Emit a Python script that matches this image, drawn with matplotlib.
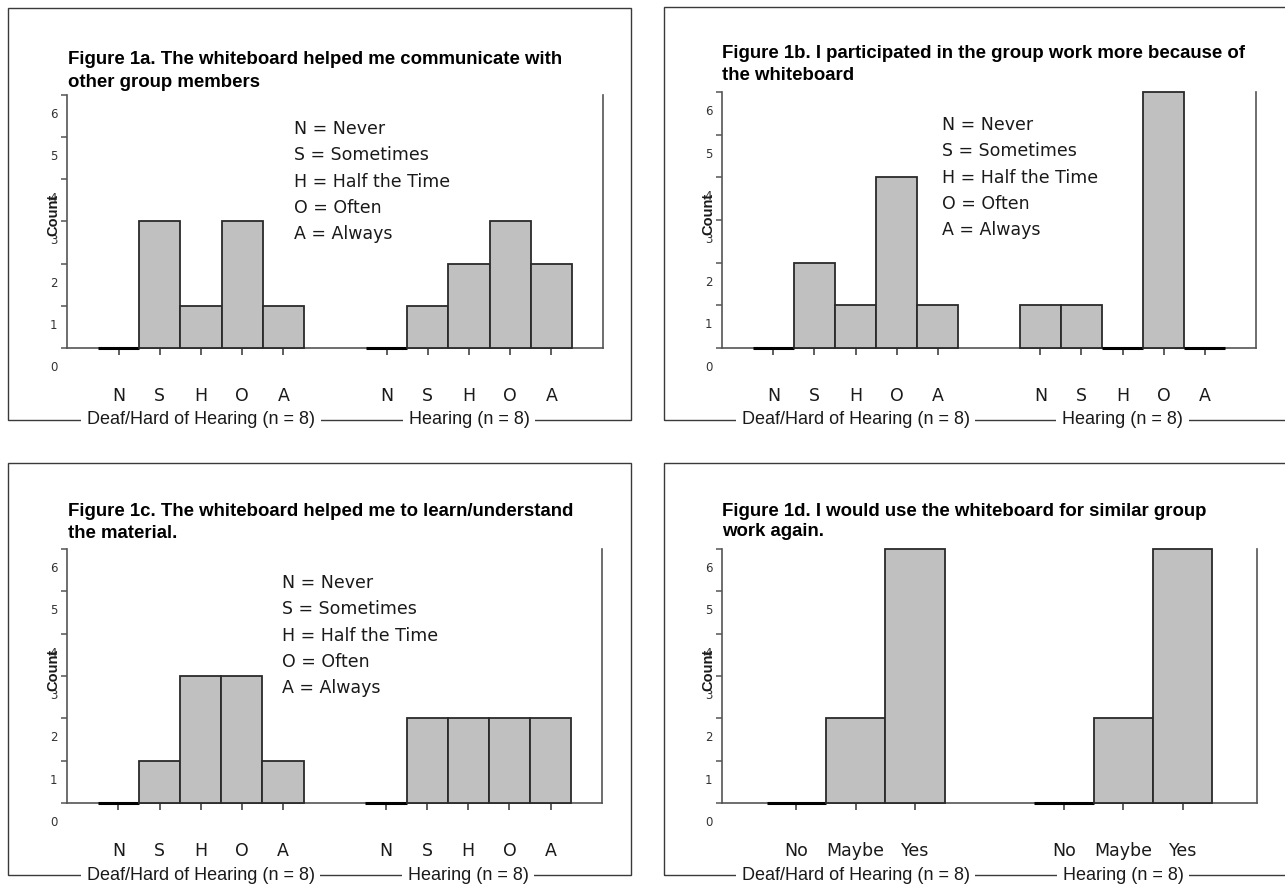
import numpy as np
import matplotlib
matplotlib.use("Agg")
import matplotlib.pyplot as plt
from matplotlib.patches import Rectangle
from matplotlib.transforms import ScaledTranslation

# --- data ---
likert_labels = ['N', 'S', 'H', 'O', 'A']
yesno_labels = ['No', 'Maybe', 'Yes']
group_labels = ['Deaf/Hard of Hearing (n = 8)', 'Hearing (n = 8)']
legend_lines = ['N = Never', 'S = Sometimes', 'H = Half the Time', 'O = Often', 'A = Always']
y_ticks = [0, 1, 2, 3, 4, 5, 6]

fig1a_deaf = [0, 3, 1, 3, 1]
fig1a_hearing = [0, 1, 2, 3, 2]
fig1b_deaf = [0, 2, 1, 4, 1]
fig1b_hearing = [1, 1, 0, 6, 0]
fig1c_deaf = [0, 1, 3, 3, 1]
fig1c_hearing = [0, 2, 2, 2, 2]
fig1d_deaf = [0, 2, 6]
fig1d_hearing = [0, 2, 6]

titles = [
    ['Figure 1a. The whiteboard helped me communicate with', 'other group members'],
    ['Figure 1b. I participated in the group work more because of', 'the whiteboard'],
    ['Figure 1c. The whiteboard helped me to learn/understand', 'the material.'],
    ['Figure 1d. I would use the whiteboard for similar group', 'work again.'],
]

W, H = 1285, 888
fig = plt.figure(figsize=(W / 100, H / 100), dpi=100, facecolor='white')

BAR_FACE = '#c0c0c0'
BAR_EDGE = '#2a2a2a'
AXIS_COL = '#555555'
TEXT_COL = '#1a1a1a'
LEG_FONT = 'DejaVu Sans'
ARIAL = 'Liberation Sans'


def fx(x):
    return x / W


def fy(y):
    return 1 - y / H


def draw_bars(ax, xs, vals):
    # empty categories show up as a heavy black line on the baseline
    vals = np.asarray(vals)
    lw = np.where(vals == 0, 2.2, 1.3)
    ec = ['#000000' if v == 0 else BAR_EDGE for v in vals]
    ax.bar(xs, vals, width=1.0, color=BAR_FACE, edgecolor=ec,
           linewidth=lw, zorder=3, clip_on=False)


# pixel layout of each panel: axes box, frame box, title origin, legend origin
panels = [
    dict(deaf=fig1a_deaf, hearing=fig1a_hearing, cats=likert_labels,
         ax=(67, 603, 95, 348), frame=(8, 631, 8, 420),
         title=(68, 59, 82), legend=(294, 129)),
    dict(deaf=fig1b_deaf, hearing=fig1b_hearing, cats=likert_labels,
         ax=(722, 1256, 92, 348), frame=(664, 1295, 7, 420),
         title=(722, 54, 76), legend=(942, 125)),
    dict(deaf=fig1c_deaf, hearing=fig1c_hearing, cats=likert_labels,
         ax=(67, 602, 549, 803), frame=(8, 631, 463, 875),
         title=(68, 511, 533), legend=(282, 583)),
    dict(deaf=fig1d_deaf, hearing=fig1d_hearing, cats=yesno_labels,
         ax=(722, 1257, 549, 803), frame=(664, 1295, 463, 875),
         title=(722, 511, 532), legend=None),
]

for i, p in enumerate(panels):
    l, r, t, b = p['ax']
    ax = fig.add_axes([fx(l), fy(b), fx(r) - fx(l), fy(t) - fy(b)])

    n = len(p['cats'])
    x_deaf = np.arange(n)
    x_hear = np.arange(n) + n + 1.5
    draw_bars(ax, x_deaf, p['deaf'])
    draw_bars(ax, x_hear, p['hearing'])

    ax.set_xlim(-1.25, x_hear[-1] + 1.25)
    ax.set_ylim(0, 6)

    for s in ['left', 'right', 'bottom']:
        ax.spines[s].set_color(AXIS_COL)
        ax.spines[s].set_linewidth(1.2)
    ax.spines['top'].set_visible(False)

    ax.set_xticks(np.concatenate([x_deaf, x_hear]))
    ax.set_xticklabels(p['cats'] + p['cats'], family=LEG_FONT, fontsize=12.5,
                       color=TEXT_COL)
    ax.tick_params(axis='x', length=5, width=1.1, color='#333333', pad=23)

    ax.set_yticks(y_ticks)
    ax.set_yticklabels([str(v) for v in y_ticks], family=LEG_FONT, fontsize=8.5,
                       color='#333333')
    ax.tick_params(axis='y', length=4, width=1.1, color=AXIS_COL, pad=3)

    # y labels sit about half a unit below their tick marks
    off = ScaledTranslation(0, -0.18, fig.dpi_scale_trans)
    for lbl in ax.get_yticklabels():
        lbl.set_transform(lbl.get_transform() + off)

    ax.text(-14 / (r - l), 3.15, 'Count', transform=ax.get_yaxis_transform(),
            rotation=90, ha='center', va='center', family=ARIAL,
            fontweight='bold', fontsize=10.5, color=TEXT_COL, zorder=5)

    # group labels break the bottom line of the frame
    y_grp = -(p['frame'][3] - b) / (b - t)
    for gx, glabel in zip([x_deaf.mean(), x_hear.mean()], group_labels):
        ax.text(gx, y_grp, glabel, transform=ax.get_xaxis_transform(),
                ha='center', va='center', family=ARIAL, fontsize=13,
                color=TEXT_COL, clip_on=False,
                bbox=dict(facecolor='white', edgecolor='none', pad=4))

    # outer frame
    fl, fr, ft, fb = p['frame']
    fig.patches.append(Rectangle((fx(fl), fy(fb)), fx(fr) - fx(fl), fy(ft) - fy(fb),
                                 transform=fig.transFigure, fill=False,
                                 edgecolor='#3a3a3a', linewidth=1.0, zorder=-1))

    tx, ty1, ty2 = p['title']
    for line, ty in zip(titles[i], [ty1, ty2]):
        fig.text(fx(tx), fy(ty), line, ha='left', va='center', family=ARIAL,
                 fontweight='bold', fontsize=13.4, color='black')

    if p['legend'] is not None:
        lx, ly = p['legend']
        for k, line in enumerate(legend_lines):
            fig.text(fx(lx), fy(ly + 26.3 * k), line, ha='left', va='center',
                     family=LEG_FONT, fontsize=12.5, color=TEXT_COL)

fig.savefig('out.png', dpi=100, facecolor='white')
